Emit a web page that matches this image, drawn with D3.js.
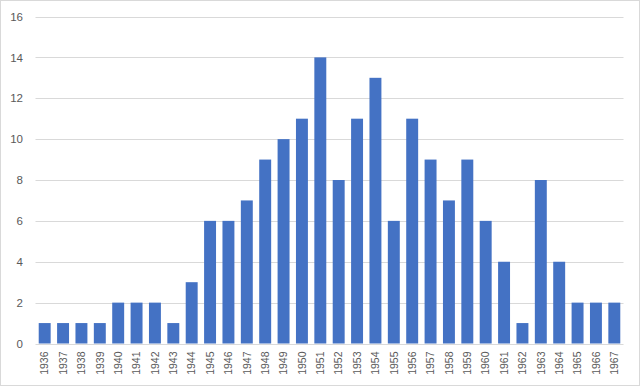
<!DOCTYPE html>
<html><head><meta charset="utf-8">
<script src="https://cdn.jsdelivr.net/npm/d3@7"></script>
<style>body{margin:0;background:#fff}svg{display:block}text{font-family:"Liberation Sans",Arial,sans-serif}</style>
</head><body>
<svg id="c" width="640" height="387"></svg>
<script>
const years = ["1936","1937","1938","1939","1940","1941","1942","1943","1944","1945","1946","1947","1948","1949","1950","1951","1952","1953","1954","1955","1956","1957","1958","1959","1960","1961","1962","1963","1964","1965","1966","1967"];
const values = [1,1,1,1,2,2,2,1,3,6,6,7,9,10,11,14,8,11,13,6,11,9,7,9,6,4,1,8,4,2,2,2];
const yTicks = [0,2,4,6,8,10,12,14,16];

(function(){
const svg = d3.select("#c");
svg.append("rect").attr("x",0.5).attr("y",0.5).attr("width",639).attr("height",385)
  .attr("fill","#fff").attr("stroke","#d9d9d9");

const pLeft = 35.5, pRight = 623.5, pTop = 16.5, pBottom = 343.5;
const x = d3.scaleBand().domain(years).range([pLeft,pRight]).paddingInner(0.35).paddingOuter(0.175);
const y = d3.scaleLinear().domain([0,16]).range([pBottom,pTop]);

const grid = svg.append("g");
grid.selectAll("line").data(yTicks).join("line")
  .attr("x1",pLeft).attr("x2",pRight)
  .attr("y1",d=>Math.round(y(d))+0.5).attr("y2",d=>Math.round(y(d))+0.5)
  .attr("stroke","#d9d9d9").attr("stroke-width",1);

svg.append("g").selectAll("rect").data(values).join("rect")
  .attr("x",(d,i)=>x(years[i])).attr("width",x.bandwidth())
  .attr("y",d=>y(d)).attr("height",d=>y(0)-y(d))
  .attr("fill","#4472c4");

const yAxis = d3.axisLeft(y).tickValues(yTicks).tickSize(0).tickPadding(0);
const ya = svg.append("g").attr("transform","translate(23,0)").call(yAxis);
ya.select(".domain").remove();
ya.selectAll("text").attr("font-size","11.5px").attr("fill","#595959").attr("font-family","Liberation Sans, Arial, sans-serif");

const xAxis = d3.axisBottom(x).tickSize(0).tickPadding(0);
const xa = svg.append("g").attr("transform",`translate(0,${pBottom})`).call(xAxis);
xa.select(".domain").remove();
xa.selectAll("text")
  .attr("font-size","10.5px").attr("fill","#595959").attr("font-family","Liberation Sans, Arial, sans-serif")
  .attr("text-anchor","end").attr("transform","translate(0,8) rotate(-90)")
  .attr("x",0).attr("y",0).attr("dy","0.35em");
})();
</script>
</body></html>
